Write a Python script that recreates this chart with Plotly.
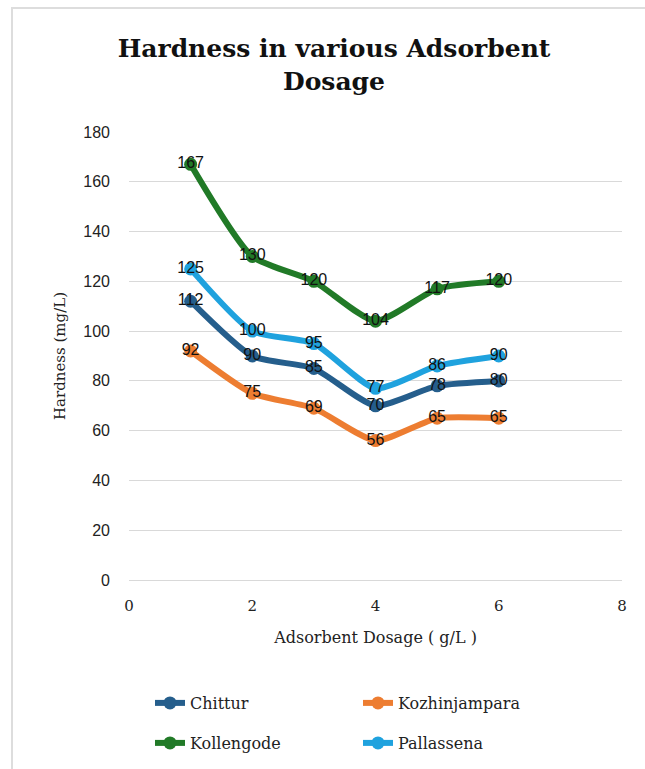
import plotly.graph_objects as go

dosage = [1, 2, 3, 4, 5, 6]
chittur = [112, 90, 85, 70, 78, 80]
kozhinjampara = [92, 75, 69, 56, 65, 65]
kollengode = [167, 130, 120, 104, 117, 120]
pallassena = [125, 100, 95, 77, 86, 90]

series = [
    ("Chittur", chittur, "#255E8C", "legend"),
    ("Kozhinjampara", kozhinjampara, "#ED7D31", "legend"),
    ("Kollengode", kollengode, "#217A27", "legend2"),
    ("Pallassena", pallassena, "#1FA2DE", "legend2"),
]

W, H = 645, 769
L, R, T, B = 129, 23, 132, 189
PW, PH = W - L - R, H - T - B

fig = go.Figure()
for name, vals, color, lg in series:
    fig.add_trace(go.Scatter(
        x=dosage, y=vals, name=name, mode="lines+markers+text",
        line=dict(color=color, width=6, shape="spline", smoothing=0.6),
        marker=dict(color=color, size=13),
        text=[str(v) for v in vals], textposition="middle center",
        textfont=dict(family="Liberation Sans", size=16, color="#111111"),
        legend=lg,
    ))

def px_x(p):
    return (p - L) / PW

def px_y(p):
    return (H - B - p) / PH

fig.update_layout(
    width=W, height=H,
    margin=dict(l=L, r=R, t=T, b=B, autoexpand=False),
    paper_bgcolor="white", plot_bgcolor="white",
    title=dict(text="<b>Hardness in various Adsorbent<br>Dosage</b>",
               x=334 / W, xanchor="center", y=1 - 57 / H, yanchor="top",
               font=dict(family="DejaVu Serif", size=25, color="#111111")),
    xaxis=dict(range=[0, 8], dtick=2, showgrid=False, zeroline=False, showline=False,
               automargin=False, ticks="", ticklabelstandoff=15,
               tickfont=dict(family="DejaVu Serif", size=15, color="#222222"),
               title=dict(text="Adsorbent Dosage ( g/L )", standoff=17,
                          font=dict(family="DejaVu Serif", size=16, color="#222222"))),
    yaxis=dict(range=[0, 180], dtick=20, showgrid=True, gridcolor="#D9D9D9", gridwidth=1,
               zeroline=True, zerolinecolor="#D9D9D9", zerolinewidth=1,
               automargin=False, showline=False, ticks="", ticklabelstandoff=18,
               tickfont=dict(family="Liberation Sans", size=16, color="#222222"),
               title=dict(text="Hardness (mg/L)", standoff=14,
                          font=dict(family="DejaVu Serif", size=15, color="#222222"))),
    legend=dict(orientation="h", x=px_x(150), y=px_y(686), xanchor="left", yanchor="top",
                entrywidth=163, font=dict(family="DejaVu Serif", size=16, color="#222222"),
                bgcolor="rgba(0,0,0,0)"),
    legend2=dict(orientation="h", x=px_x(150), y=px_y(726), xanchor="left", yanchor="top",
                 entrywidth=163, font=dict(family="DejaVu Serif", size=16, color="#222222"),
                 bgcolor="rgba(0,0,0,0)"),
    shapes=[dict(type="rect", xref="paper", yref="paper",
                 x0=px_x(12), x1=px_x(W + 40), y0=px_y(H + 40), y1=px_y(8),
                 line=dict(color="#DDDDDD", width=2), fillcolor="rgba(0,0,0,0)", layer="below")],
)

fig.write_html("out.html")
